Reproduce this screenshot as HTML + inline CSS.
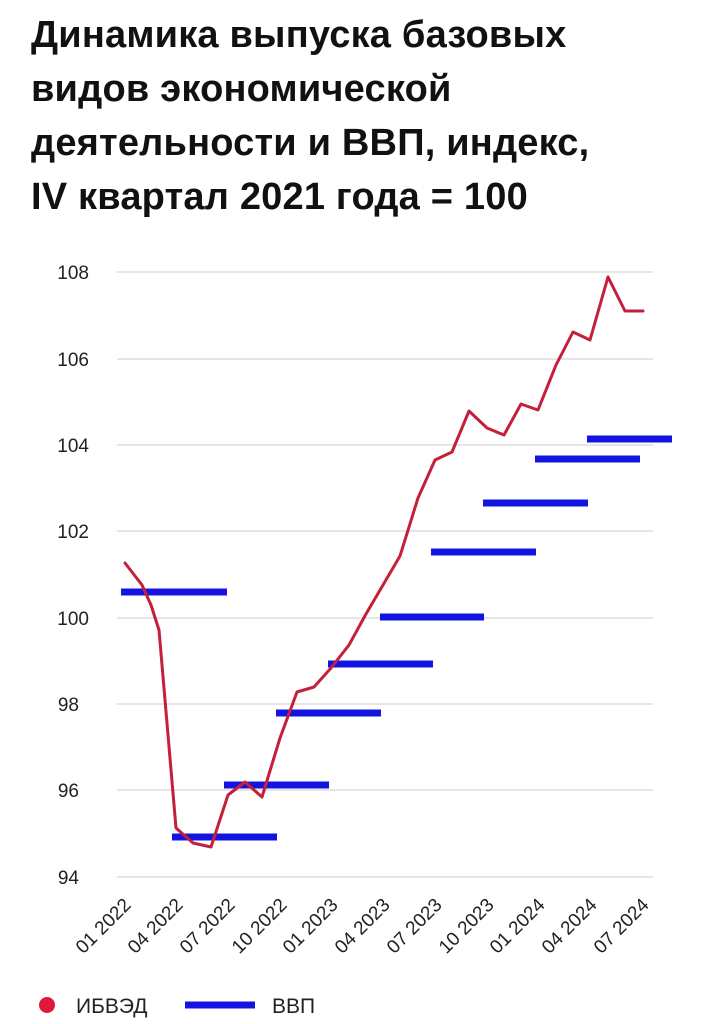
<!DOCTYPE html>
<html><head><meta charset="utf-8"><style>
html,body{margin:0;padding:0;background:#fff;width:703px;height:1024px;overflow:hidden}
.t{position:absolute;left:31px;top:8px;font:bold 38px/54px "Liberation Sans",sans-serif;color:#111;letter-spacing:0.2px}
</style></head><body>
<div class="t">Динамика выпуска базовых<br>видов экономической<br>деятельности и ВВП, индекс,<br>IV квартал 2021 года = 100</div>
<svg width="703" height="1024" style="position:absolute;left:0;top:0" font-family="Liberation Sans, sans-serif">
<g stroke="#ddd" stroke-width="1.5">
<line x1="117" x2="653" y1="272" y2="272"/><line x1="117" x2="653" y1="359" y2="359"/>
<line x1="117" x2="653" y1="445" y2="445"/><line x1="117" x2="653" y1="531" y2="531"/>
<line x1="117" x2="653" y1="618" y2="618"/><line x1="117" x2="653" y1="704" y2="704"/>
<line x1="117" x2="653" y1="790" y2="790"/><line x1="117" x2="653" y1="877" y2="877"/>
</g>
<g font-size="19" fill="#222" text-anchor="end">
<text x="89" y="279">108</text><text x="89" y="366">106</text><text x="89" y="452">104</text>
<text x="89" y="538">102</text><text x="89" y="625">100</text><text x="79" y="711">98</text>
<text x="79" y="797">96</text><text x="79" y="884">94</text>
</g>
<g font-size="19" fill="#222" text-anchor="end">
<text transform="translate(132,906) rotate(-45)">01 2022</text>
<text transform="translate(184,906) rotate(-45)">04 2022</text>
<text transform="translate(236,906) rotate(-45)">07 2022</text>
<text transform="translate(288,906) rotate(-45)">10 2022</text>
<text transform="translate(339,906) rotate(-45)">01 2023</text>
<text transform="translate(391,906) rotate(-45)">04 2023</text>
<text transform="translate(443,906) rotate(-45)">07 2023</text>
<text transform="translate(495,906) rotate(-45)">10 2023</text>
<text transform="translate(546,906) rotate(-45)">01 2024</text>
<text transform="translate(598,906) rotate(-45)">04 2024</text>
<text transform="translate(650,906) rotate(-45)">07 2024</text>
</g>
<g stroke="#1414e0" stroke-width="7">
<line x1="121" x2="227" y1="592" y2="592"/><line x1="172" x2="277" y1="837" y2="837"/>
<line x1="224" x2="329" y1="785" y2="785"/><line x1="276" x2="381" y1="713" y2="713"/>
<line x1="328" x2="433" y1="664" y2="664"/><line x1="380" x2="484" y1="617" y2="617"/>
<line x1="431" x2="536" y1="552" y2="552"/><line x1="483" x2="588" y1="503" y2="503"/>
<line x1="535" x2="640" y1="459" y2="459"/><line x1="587" x2="672" y1="439" y2="439"/>
</g>
<polyline fill="none" stroke="#c41f3b" stroke-width="3" stroke-linejoin="round" stroke-linecap="round" points="125,563 142,585 151,605 159,630 176,828 193,843 211,847 228,795 245,782 262,797 280,738 297,692 314,687 331,668 349,645 366,614 383,585 400,556 418,498 435,460 452,452 469,411 487,428 504,435 521,404 538,410 556,365 573,332 590,340 608,277 625,311 643,311"/>
<circle cx="47" cy="1005" r="8" fill="#e0193a"/>
<text x="76" y="1013" font-size="21" fill="#222">ИБВЭД</text>
<line x1="185" x2="255" y1="1005" y2="1005" stroke="#1414e0" stroke-width="7"/>
<text x="272" y="1013" font-size="21" fill="#222">ВВП</text>
</svg>
</body></html>
